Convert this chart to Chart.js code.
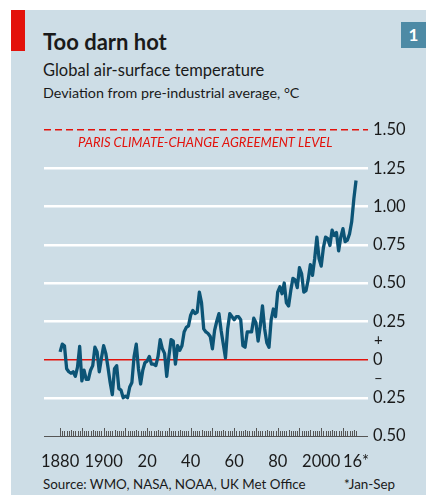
<!DOCTYPE html>
<html>
<head>
<meta charset="utf-8">
<script src="https://cdn.jsdelivr.net/npm/chart.js@4"></script>
<style>
  html, body { margin: 0; padding: 0; background: #fff; }
  #panel { position: absolute; left: 11px; top: 10px; width: 415px; height: 485px; background: #cddde6; }
  #redbar { position: absolute; left: 11px; top: 10px; width: 14px; height: 41px; background: #e3120b; }
  #num { position: absolute; left: 401px; top: 22px; width: 25px; height: 26px; background: #4d8aa5; color: #fff;
         font: bold 17px Lato, sans-serif; text-align: center; line-height: 26px; }
  .t { position: absolute; left: 43px; color: #1a1a1a; white-space: nowrap; font-family: Lato, sans-serif; }
  #title { top: 28px; font-size: 22px; font-weight: bold; }
  #sub1 { top: 60px; font-size: 16.5px; }
  #sub2 { top: 84px; font-size: 14.3px; }
  #source { top: 476px; font-size: 13.4px; }
  #note { top: 476px; left: 344px; font-size: 13.4px; }
  canvas { position: absolute; left: 0; top: 0; }
</style>
</head>
<body>
<div id="panel"></div>
<div id="redbar"></div>
<div id="num">1</div>
<div class="t" id="title">Too darn hot</div>
<div class="t" id="sub1">Global air-surface temperature</div>
<div class="t" id="sub2">Deviation from pre-industrial average, °C</div>
<div class="t" id="source">Source: WMO, NASA, NOAA, UK Met Office</div>
<div class="t" id="note">*Jan-Sep</div>
<canvas id="chart" width="426" height="495"></canvas>
<script>
const firstYear = 1880;
const temps = [
  0.05, 0.10, 0.09, -0.06, -0.08, -0.09, -0.08, -0.11, -0.05, 0.085,
  -0.14, -0.07, -0.13, -0.13, -0.07, -0.04, 0.08, 0.05, -0.08, 0.01,
  0.09, 0.04, -0.05, -0.15, -0.23, -0.06, -0.04, -0.19, -0.20, -0.25,
  -0.24, -0.25, -0.18, -0.15, 0.02, 0.10, -0.06, -0.16, -0.07, -0.02,
  -0.01, 0.02, -0.03, -0.03, -0.04, 0.02, 0.13, 0.07, 0.04, -0.11,
  0.02, 0.13, 0.12, -0.03, 0.09, 0.06, 0.09, 0.18, 0.21, 0.22,
  0.29, 0.32, 0.30, 0.31, 0.44, 0.37, 0.20, 0.18, 0.17, 0.15,
  0.07, 0.19, 0.25, 0.30, 0.19, 0.10, 0.01, 0.20, 0.30, 0.28,
  0.26, 0.28, 0.28, 0.26, 0.09, 0.08, 0.18, 0.18, 0.18, 0.27,
  0.24, 0.12, 0.22, 0.35, 0.20, 0.11, 0.08, 0.26, 0.33, 0.28,
  0.44, 0.475, 0.43, 0.50, 0.37, 0.35, 0.45, 0.53, 0.52, 0.47,
  0.60, 0.56, 0.44, 0.45, 0.52, 0.62, 0.55, 0.66, 0.80, 0.66,
  0.61, 0.73, 0.80, 0.79, 0.745, 0.845, 0.81, 0.83, 0.71, 0.80,
  0.855, 0.77, 0.78, 0.82, 0.90, 1.05, 1.17
];
const years = temps.map((v, i) => firstYear + i);

const xTickYears = [1880, 1900, 1920, 1940, 1960, 1980, 2000, 2016];
const xTickLabels = ["1880", "1900", "20", "40", "60", "80", "2000", "16*"];
const yTicks = [-0.5, -0.25, 0, 0.25, 0.5, 0.75, 1, 1.25, 1.5];
const parisLevel = 1.5;

const red = '#e3120b';
const lineColor = '#0c5476';
const labelFont = { family: 'Lato, sans-serif', size: 16.5 };

const extras = {
  id: 'extras',
  beforeDatasetsDraw(chart) {
    const ctx = chart.ctx;
    const x = chart.scales.x, y = chart.scales.y;
    const base = y.getPixelForValue(-0.5);
    ctx.save();
    ctx.strokeStyle = '#555';
    ctx.lineWidth = 1;
    for (const yr of years) {
      const px = Math.round(x.getPixelForValue(yr)) + 0.5;
      const h = yr % 10 === 0 ? 8 : (yr % 5 === 0 ? 6 : 5);
      ctx.beginPath();
      ctx.moveTo(px, base);
      ctx.lineTo(px, base - h);
      ctx.stroke();
    }
    ctx.fillStyle = red;
    ctx.font = 'italic 13px Lato, sans-serif';
    ctx.textBaseline = 'middle';
    ctx.fillText('PARIS CLIMATE-CHANGE AGREEMENT LEVEL', 78, y.getPixelForValue(parisLevel) + 13);
    ctx.fillStyle = '#1a1a1a';
    ctx.font = '15px Lato, sans-serif';
    ctx.fillText('+', 374, y.getPixelForValue(0.125));
    ctx.fillText('\u2013', 374, y.getPixelForValue(-0.125));
    ctx.restore();
  }
};

new Chart(document.getElementById('chart').getContext('2d'), {
  type: 'line',
  data: {
    datasets: [{
      data: years.map((yr, i) => ({ x: yr, y: temps[i] })),
      borderColor: lineColor,
      borderWidth: 3.3,
      pointRadius: 0,
      tension: 0,
      borderJoinStyle: 'round'
    }]
  },
  options: {
    responsive: false,
    animation: false,
    layout: { padding: { left: 44, top: 130, right: 0, bottom: 0 } },
    plugins: { legend: { display: false }, tooltip: { enabled: false } },
    scales: {
      x: {
        type: 'linear',
        min: 1872.6,
        max: 2021.5,
        afterBuildTicks: s => { s.ticks = xTickYears.map(v => ({ value: v })); },
        afterFit: s => { s.height = 59; },
        grid: { display: false },
        border: { display: false },
        ticks: {
          autoSkip: false,
          maxRotation: 0,
          padding: 8,
          color: '#1a1a1a',
          font: labelFont,
          callback: v => xTickLabels[xTickYears.indexOf(v)]
        }
      },
      y: {
        position: 'right',
        min: -0.5,
        max: 1.5,
        afterBuildTicks: s => { s.ticks = yTicks.map(v => ({ value: v })); },
        afterFit: s => { s.width = 58; },
        border: {
          display: false,
          dash: c => (c.tick && c.tick.value === parisLevel ? [7, 4] : [])
        },
        grid: {
          drawTicks: false,
          color: c => {
            const v = c.tick.value;
            if (v === 0 || v === parisLevel) return red;
            if (v === -0.5) return '#555';
            return '#ffffff';
          },
          lineWidth: c => {
            const v = c.tick.value;
            if (v === -0.5) return 1;
            if (v === 0 || v === parisLevel) return 1.5;
            return 2.5;
          }
        },
        ticks: {
          padding: 5,
          color: '#1a1a1a',
          font: labelFont,
          callback: v => (v === 0 ? '0' : Math.abs(v).toFixed(2))
        }
      }
    }
  },
  plugins: [extras]
});
</script>
</body>
</html>
